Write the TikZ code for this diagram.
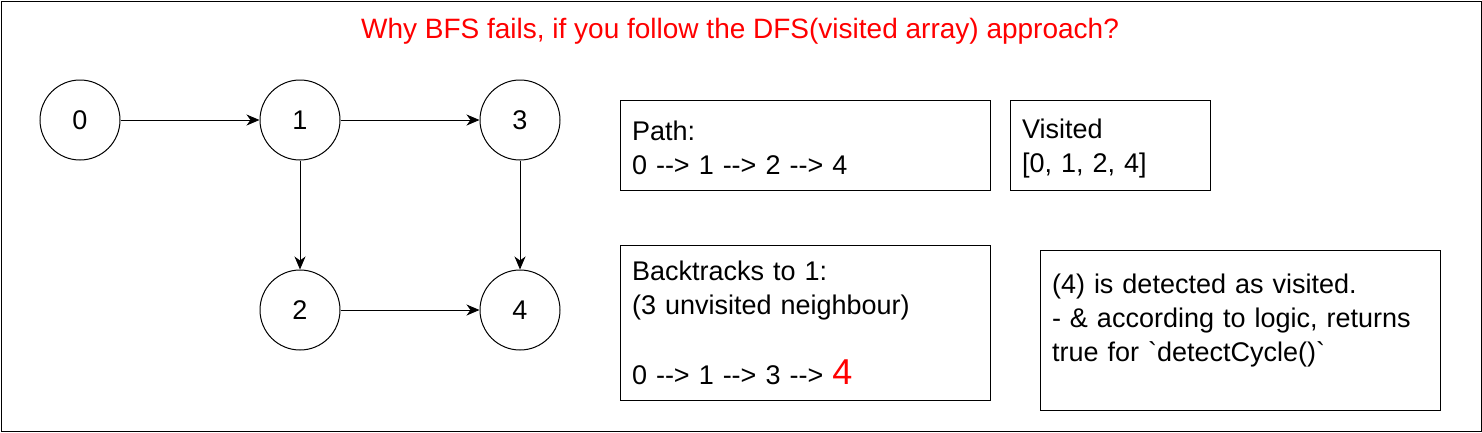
\documentclass[tikz,border=0pt]{standalone}
\usepackage{fontspec}
\newfontfamily\arialf{Liberation Sans}
\usetikzlibrary{arrows.meta}
\definecolor{titlered}{HTML}{FF0000}
\tikzset{
  base/.style={font=\arialf\fontsize{27}{34}\selectfont},
  vert/.style={base, draw, circle, minimum size=80pt, inner sep=0pt, line width=1pt},
  edge/.style={line width=1pt, -{Stealth[length=13pt,width=11pt,inset=4pt]}},
  infobox/.style={base, draw, line width=1pt, rectangle, inner xsep=12pt, inner ysep=4pt, align=left},
}
\begin{document}
\begin{tikzpicture}[x=1pt,y=-1pt]
\useasboundingbox (0,0) rectangle (1482,432);
\node[draw, line width=1pt, minimum width=1480pt, minimum height=430pt, inner sep=0pt] (frame) at (741,216) {};
\node[font=\arialf\fontsize{28}{34}\selectfont, text=titlered] (title) at (740,31) {Why BFS fails, if you follow the DFS(visited array) approach?};
\node[vert] (n0) at (80,120) {0};
\node[vert] (n1) at (300,120) {1};
\node[vert] (n3) at (520,120) {3};
\node[vert] (n2) at (300,310) {2};
\node[vert] (n4) at (520,310) {4};
\draw[edge] (n0) -- (n1);
\draw[edge] (n1) -- (n3);
\draw[edge] (n1) -- (n2);
\draw[edge] (n3) -- (n4);
\draw[edge] (n2) -- (n4);
\node[infobox, text width=346pt, minimum height=90pt] (path) at (805,145) {\rule{0pt}{26pt}Path:\\0 --> 1 --> 2 --> 4};
\node[infobox, text width=176pt, minimum height=90pt] (visited) at (1110,145) {\rule{0pt}{26pt}Visited\\{}[0, 1, 2, 4]};
\node[infobox, text width=346pt, minimum height=155pt] (back) at (805,322.5) {Backtracks to 1:\\(3 unvisited neighbour)\\\strut\\0 --> 1 --> 3 --> {\color{titlered}\fontsize{36}{34}\selectfont 4}};
\node[infobox, text width=376pt, minimum height=160pt] (det) at (1240,330) {(4) is detected as visited.\\- \& according to logic, returns\\true for `detectCycle()`\\[-20pt]\strut};
\end{tikzpicture}
\end{document}
